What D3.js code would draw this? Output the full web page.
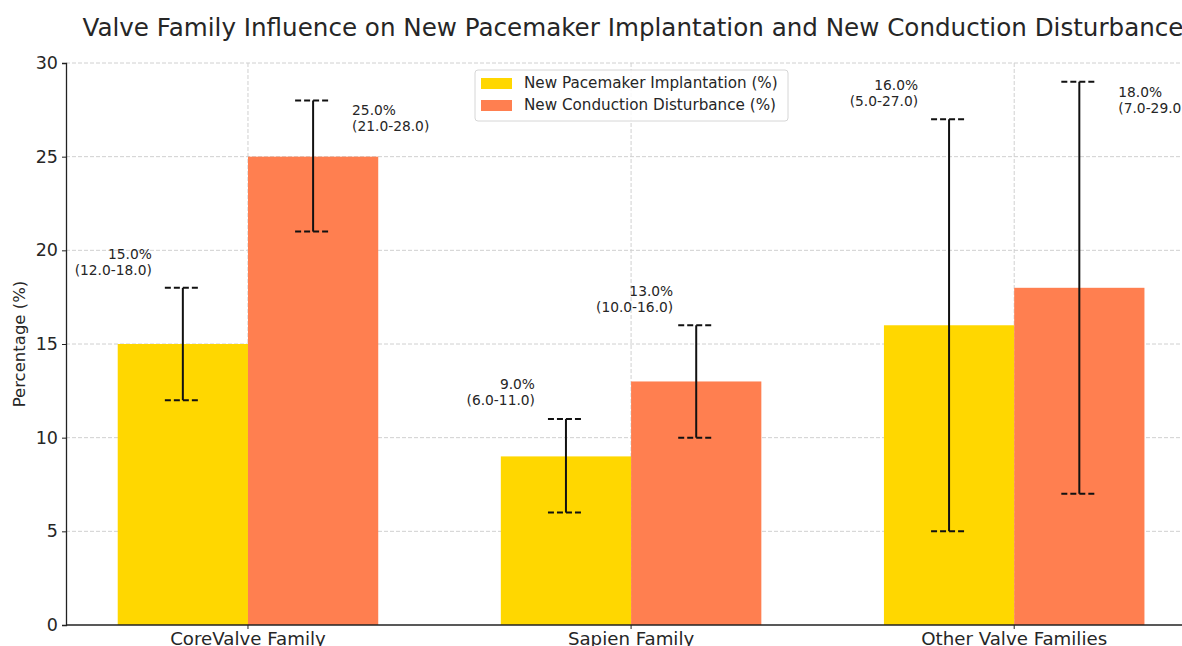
<html>
<script src="https://d3js.org/d3.v7.min.js"></script>
<style>
body { margin: 0; background: white; }
text { font-family: "DejaVu Sans", sans-serif; fill: #262626; }
</style>
<body>
<svg width="1182" height="646"></svg>
<script>
// data
var families = ["CoreValve Family", "Sapien Family", "Other Valve Families"];
var seriesNames = ["New Pacemaker Implantation (%)", "New Conduction Disturbance (%)"];
var pacemaker = [15, 9, 16];
var pacemakerLow = [12, 6, 5];
var pacemakerHigh = [18, 11, 27];
var conduction = [25, 13, 18];
var conductionLow = [21, 10, 7];
var conductionHigh = [28, 16, 29];
var yTicks = [0, 5, 10, 15, 20, 25, 30];

var colors = ["#FFD700", "#FF7F50"];

var margin = {left: 66, top: 63, bottom: 21};
var width = 1134;   // plot runs past the right edge of the picture, like the original
var height = 646 - margin.top - margin.bottom;

var svg = d3.select("svg");

// x in "category index" units, like matplotlib bars
var barW = 0.34;
var x = d3.scaleLinear().domain([-0.475, 2.485]).range([0, width]);
var y = d3.scaleLinear().domain([0, 30]).range([height, 0]);

var g = svg.append("g")
    .attr("transform", "translate(" + margin.left + "," + margin.top + ")");

// grid
g.append("g").selectAll("line")
    .data(yTicks.slice(1))
    .enter().append("line")
    .attr("x1", 0).attr("x2", width)
    .attr("y1", function(d) { return y(d); })
    .attr("y2", function(d) { return y(d); })
    .attr("stroke", "#d0d0d0").attr("stroke-width", 1)
    .attr("stroke-dasharray", "4,2");
g.append("g").selectAll("line")
    .data(families)
    .enter().append("line")
    .attr("x1", function(d, i) { return x(i); })
    .attr("x2", function(d, i) { return x(i); })
    .attr("y1", 0).attr("y2", height)
    .attr("stroke", "#d0d0d0").attr("stroke-width", 1)
    .attr("stroke-dasharray", "4,2");

var series = [
    {name: seriesNames[0], vals: pacemaker, lo: pacemakerLow, hi: pacemakerHigh, off: -barW / 2},
    {name: seriesNames[1], vals: conduction, lo: conductionLow, hi: conductionHigh, off: barW / 2}
];

// bars
series.forEach(function(s, si) {
    g.append("g").selectAll("rect")
        .data(s.vals)
        .enter().append("rect")
        .attr("x", function(d, i) { return x(i + s.off - barW / 2); })
        .attr("width", x(barW) - x(0))
        .attr("y", function(d) { return y(d); })
        .attr("height", function(d) { return height - y(d); })
        .attr("fill", colors[si]);
});

// error bars with dashed caps
series.forEach(function(s, si) {
    var eb = g.append("g").selectAll("g")
        .data(s.vals)
        .enter().append("g");
    eb.append("line")
        .attr("x1", function(d, i) { return x(i + s.off); })
        .attr("x2", function(d, i) { return x(i + s.off); })
        .attr("y1", function(d, i) { return y(s.lo[i]); })
        .attr("y2", function(d, i) { return y(s.hi[i]); })
        .attr("stroke", "#111").attr("stroke-width", 2);
    ["lo", "hi"].forEach(function(k) {
        eb.append("line")
            .attr("x1", function(d, i) { return x(i + s.off) - 18; })
            .attr("x2", function(d, i) { return x(i + s.off) + 18; })
            .attr("y1", function(d, i) { return y(s[k][i]); })
            .attr("y2", function(d, i) { return y(s[k][i]); })
            .attr("stroke", "#111").attr("stroke-width", 2)
            .attr("stroke-dasharray", "6,3");
    });
});

// value labels: side ("l" = right-aligned left of the bar, "r" = to the right), pixel nudges
var labelPlace = [
    [{side: "l", dx: -31, dy: -13}, {side: "l", dx: -31, dy: -14}, {side: "l", dx: -31, dy: -13}],
    [{side: "r", dx: 39, dy: 18}, {side: "l", dx: -23, dy: -13}, {side: "r", dx: 39, dy: 18}]
];
series.forEach(function(s, si) {
    s.vals.forEach(function(v, i) {
        var p = labelPlace[si][i];
        var cx = x(i + s.off) + p.dx;
        var cy = y(s.hi[i]) + p.dy;
        var t = g.append("text")
            .attr("font-size", "13.8px")
            .attr("text-anchor", p.side == "l" ? "end" : "start")
            .attr("fill", "#333");
        // two lines; for "l" the block sits above cy, for "r" it is centred on cy
        var y1 = p.side == "l" ? cy - 16 : cy - 3;
        t.append("tspan").attr("x", cx).attr("y", y1).text(v.toFixed(1) + "%");
        t.append("tspan").attr("x", cx).attr("y", y1 + 16)
            .text("(" + s.lo[i].toFixed(1) + "-" + s.hi[i].toFixed(1) + ")");
    });
});

// axes
var yAxis = d3.axisLeft(y).tickValues(yTicks).tickSize(4).tickPadding(4);
var ya = g.append("g").call(yAxis);
ya.selectAll("text").attr("font-size", "17.5px").style("font-family", "DejaVu Sans");
ya.select(".domain").attr("stroke", "#222").attr("stroke-width", 1.3);
ya.selectAll(".tick line").attr("stroke", "#222");

var xa = g.append("g").attr("transform", "translate(0," + height + ")");
xa.append("line").attr("x1", 0).attr("x2", width).attr("stroke", "#222").attr("stroke-width", 1.3);
xa.selectAll(".xt")
    .data(families)
    .enter().append("line")
    .attr("x1", function(d, i) { return x(i); })
    .attr("x2", function(d, i) { return x(i); })
    .attr("y1", 0).attr("y2", 4)
    .attr("stroke", "#222");
xa.selectAll(".xl")
    .data(families)
    .enter().append("text")
    .attr("x", function(d, i) { return x(i); })
    .attr("y", 20)
    .attr("text-anchor", "middle")
    .attr("font-size", "18.2px")
    .text(function(d) { return d; });

svg.append("text")
    .attr("transform", "translate(25," + (margin.top + height / 2) + ") rotate(-90)")
    .attr("text-anchor", "middle")
    .attr("font-size", "16.5px")
    .text("Percentage (%)");

svg.append("text")
    .attr("x", margin.left + width / 2)
    .attr("y", 36)
    .attr("text-anchor", "middle")
    .attr("font-size", "24.6px")
    .text("Valve Family Influence on New Pacemaker Implantation and New Conduction Disturbance");

// legend
var lg = svg.append("g").attr("transform", "translate(475,70)");
lg.append("rect")
    .attr("width", 313).attr("height", 51).attr("rx", 3)
    .attr("fill", "white").attr("fill-opacity", 0.85)
    .attr("stroke", "#d6d6d6");
seriesNames.forEach(function(n, i) {
    lg.append("rect")
        .attr("x", 6).attr("y", 8 + i * 22)
        .attr("width", 31).attr("height", 11)
        .attr("fill", colors[i]);
    lg.append("text")
        .attr("x", 49).attr("y", 18 + i * 22)
        .attr("font-size", "15.2px")
        .text(n);
});
</script>
</body>
</html>
